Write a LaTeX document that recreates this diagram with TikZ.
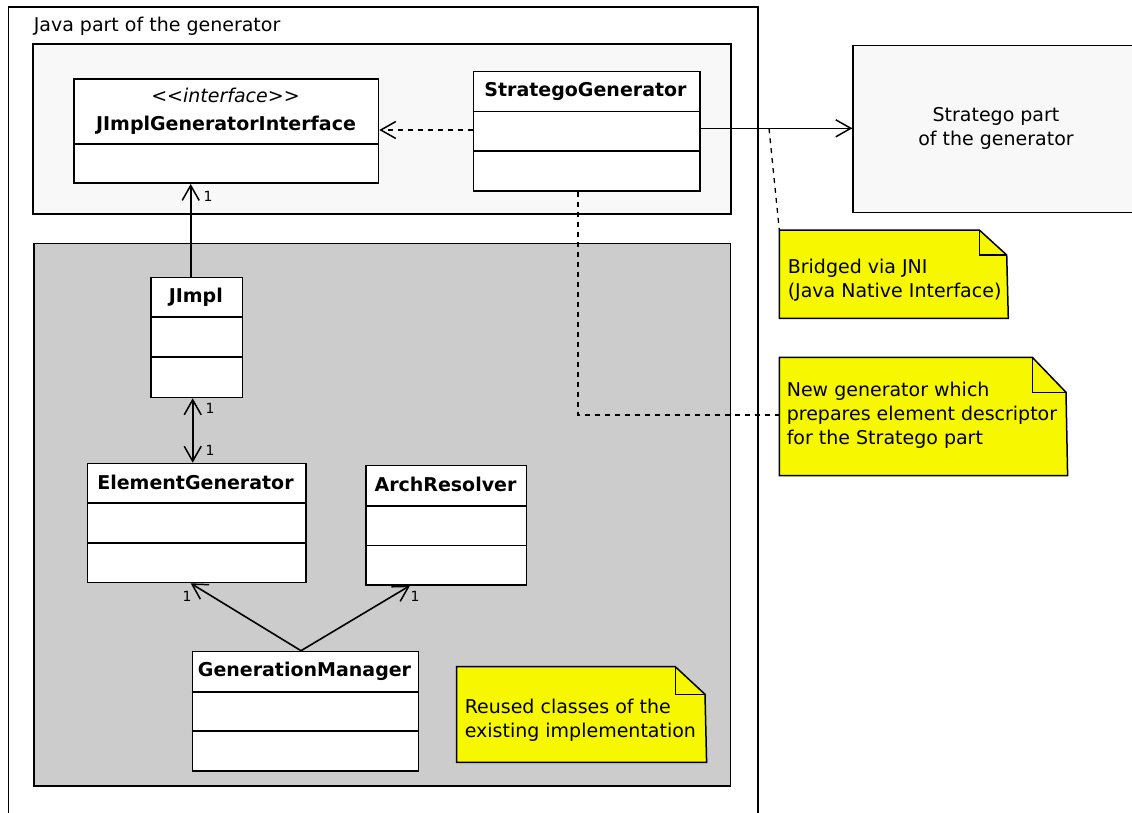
\documentclass[tikz,border=0pt]{standalone}
\usepackage{fontspec}
\setmainfont{DejaVu Sans}
\usetikzlibrary{arrows.meta}
\definecolor{panellight}{HTML}{F8F8F8}
\definecolor{panelgray}{HTML}{CCCCCC}
\definecolor{noteyellow}{HTML}{F7F700}
\begin{document}
\begin{tikzpicture}[x=1pt,y=-1pt,
  line width=1.6pt,
  txt/.style={font=\fontsize{19}{24}\selectfont, inner sep=0pt},
  ttl/.style={font=\fontsize{19}{24}\selectfont\bfseries, inner sep=0pt, anchor=base},
  mult/.style={font=\fontsize{14}{16}\selectfont, inner sep=0pt, anchor=base},
  classbox/.style={draw=black, fill=white, inner sep=0pt, anchor=north west},
  panel/.style={draw=black, inner sep=0pt, anchor=north west},
  notebox/.style={inner sep=0pt, anchor=north west},
  notefill/.style={draw=black, fill=noteyellow, line width=1.5pt},
  barb/.tip={Straight Barb[length=15pt,width=17pt,line width=1.5pt]},
  openarrow/.style={-barb},
  dsh/.style={dash pattern=on 5pt off 5pt, line width=1.3pt}
]
\useasboundingbox (0,0) rectangle (1132,812);

% outer Java frame (open at the bottom)
\draw (8.3,820) -- (8.3,6.7) -- (758,6.7) -- (758,820);
\node[txt, anchor=base west] (javatitle) at (33,31) {Java part of the generator};

% panels
\node[panel, fill=panellight, minimum width=697.7pt, minimum height=169.7pt] (toppanel) at (32.3,43.3) {};
\node[panel, fill=panelgray, minimum width=696.7pt, minimum height=542.3pt] (graypanel) at (33,242.7) {};
\node[panel, fill=panellight, minimum width=290pt, minimum height=167pt] (stratego) at (852.3,44.7) {};
\node[txt, align=center, anchor=base] (stratxt) at (996,145) {Stratego part\\of the generator};

% JImplGeneratorInterface
\node[classbox, minimum width=304.4pt, minimum height=104pt] (jgi) at (73.3,78.3) {};
\draw (jgi.west |- 0,144) -- (jgi.east |- 0,144);
\node[txt, anchor=base, font=\fontsize{19}{24}\selectfont\itshape] (jgist) at (225.5,102) {<{}<interface>{}>};
\node[ttl] (jgit) at (226,130) {JImplGeneratorInterface};

% StrategoGenerator
\node[classbox, minimum width=226.3pt, minimum height=119.3pt] (sg) at (472.7,70.7) {};
\draw (sg.west |- 0,111.3) -- (sg.east |- 0,111.3);
\draw (sg.west |- 0,151) -- (sg.east |- 0,151);
\node[ttl] (sgt) at (585.5,96.7) {StrategoGenerator};

% JImpl
\node[classbox, minimum width=91.7pt, minimum height=120pt] (jimpl) at (150,276.7) {};
\draw (jimpl.west |- 0,317) -- (jimpl.east |- 0,317);
\draw (jimpl.west |- 0,357) -- (jimpl.east |- 0,357);
\node[ttl] (jimplt) at (195.8,302) {JImpl};

% ElementGenerator
\node[classbox, minimum width=218.3pt, minimum height=119pt] (eg) at (86.7,462.7) {};
\draw (eg.west |- 0,503) -- (eg.east |- 0,503);
\draw (eg.west |- 0,543) -- (eg.east |- 0,543);
\node[ttl] (egt) at (195.5,489) {ElementGenerator};

% ArchResolver
\node[classbox, minimum width=160.4pt, minimum height=119.3pt] (ar) at (365.3,464.7) {};
\draw (ar.west |- 0,505.7) -- (ar.east |- 0,505.7);
\draw (ar.west |- 0,545.3) -- (ar.east |- 0,545.3);
\node[ttl] (art) at (445.5,491.7) {ArchResolver};

% GenerationManager
\node[classbox, minimum width=226pt, minimum height=119.3pt] (gm) at (191.7,650.7) {};
\draw (gm.west |- 0,691.7) -- (gm.east |- 0,691.7);
\draw (gm.west |- 0,730.7) -- (gm.east |- 0,730.7);
\node[ttl] (gmt) at (304.5,676.7) {GenerationManager};

% notes
\node[notebox, minimum width=227.4pt, minimum height=86.7pt] (n1) at (779.3,230) {};
\draw[notefill] (n1.north west) -- (979.3,230) -- (1006.7,255) -- (n1.south east) -- (n1.south west) -- cycle;
\draw[line width=1.5pt] (979.3,230) -- (979.3,255) -- (1006.7,255);
\node[txt, anchor=base west, align=left] (n1t) at (787,297) {Bridged via JNI\\(Java Native Interface)};

\node[notebox, minimum width=286.7pt, minimum height=116.7pt] (n2) at (779.3,357.3) {};
\draw[notefill] (n2.north west) -- (1032.3,357.3) -- (1066,392.3) -- (n2.south east) -- (n2.south west) -- cycle;
\draw[line width=1.5pt] (1032.3,357.3) -- (1032.3,392.3) -- (1066,392.3);
\node[txt, anchor=base west, align=left] (n2t) at (786,444.5) {New generator which\\prepares element descriptor\\for the Stratego part};

\node[notebox, minimum width=248.3pt, minimum height=94pt] (n3) at (456.7,666.7) {};
\draw[notefill] (n3.north west) -- (675.3,666.7) -- (705,694.3) -- (n3.south east) -- (n3.south west) -- cycle;
\draw[line width=1.5pt] (675.3,666.7) -- (675.3,694.3) -- (705,694.3);
\node[txt, anchor=base west, align=left] (n3t) at (464,737.5) {Reused classes of the\\existing implementation};

% connectors
\draw[openarrow] (sg.east |- 0,128.3) -- (stratego.west |- 0,128.3);
\draw[dsh, openarrow] (sg.west |- 0,130) -- (jgi.east |- 0,130);
\coordinate (jnibend) at (769,128.3);
\draw[dsh] (jnibend) -- (n1.north west);
\draw[dsh] (578,0 |- sg.south) -- (578,415) -- (n2.west |- 0,415);

\draw[openarrow] (190.7,0 |- jimpl.north) -- (190.7,0 |- jgi.south);
\node[mult] (m1) at (208,201) {1};
\draw[barb-barb] (192.7,0 |- jimpl.south) -- (192.7,0 |- eg.north);
\node[mult] (m2) at (210,413) {1};
\node[mult] (m3) at (210,455) {1};

\coordinate (gmtop) at (301,650.7);
\draw[openarrow] (gmtop) -- (190.7,0 |- eg.south);
\draw[openarrow] (gmtop) -- (410,0 |- ar.south);
\node[mult] (m4) at (187,601) {1};
\node[mult] (m5) at (415,601) {1};
\end{tikzpicture}
\end{document}
